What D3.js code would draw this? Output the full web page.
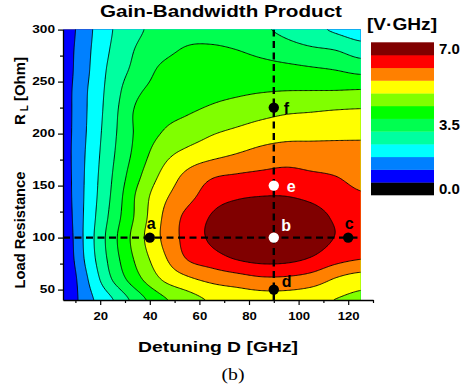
<!DOCTYPE html>
<html><head><meta charset="utf-8">
<script src="https://cdn.jsdelivr.net/npm/d3@7"></script>
<style>
body{margin:0;background:#fff}
svg text{font-family:"Liberation Sans",Arial,sans-serif;font-weight:bold;fill:#000}
</style>
</head><body>
<svg id="chart" width="463" height="391"></svg>
<script>
// ---------- data ----------
const detuning = [5, 15, 25, 35, 45, 55, 65, 75, 85, 95, 105, 115, 125];          // GHz (columns)
const loadRes  = [300, 280, 260, 240, 220, 200, 180, 160, 140, 120, 100, 80, 60, 40]; // Ohm (rows)
const gbp = [ // V·GHz
  [0.82, 1.60, 2.33, 2.82, 3.12, 3.30, 3.30, 3.18, 3.00, 2.78, 2.50, 2.25, 2.04],
  [0.88, 1.65, 2.42, 2.98, 3.33, 3.56, 3.59, 3.51, 3.35, 3.18, 3.03, 2.92, 2.65],
  [0.90, 1.69, 2.54, 3.12, 3.62, 3.79, 3.85, 3.82, 3.76, 3.70, 3.62, 3.53, 3.38],
  [0.93, 1.76, 2.63, 3.41, 3.73, 3.85, 3.95, 4.01, 4.07, 4.11, 4.12, 4.13, 4.17],
  [0.93, 1.78, 2.71, 3.62, 3.91, 4.05, 4.21, 4.36, 4.51, 4.63, 4.68, 4.74, 4.77],
  [0.93, 1.81, 2.77, 3.62, 4.11, 4.37, 4.63, 4.81, 4.98, 5.07, 5.10, 5.13, 5.16],
  [0.93, 1.86, 2.84, 3.72, 4.45, 4.84, 5.08, 5.27, 5.44, 5.54, 5.51, 5.48, 5.41],
  [0.90, 1.90, 2.93, 3.94, 4.78, 5.37, 5.75, 5.87, 5.95, 6.01, 5.91, 5.82, 5.65],
  [0.88, 1.93, 3.02, 4.19, 5.08, 5.62, 6.13, 6.33, 6.41, 6.41, 6.28, 6.07, 5.89],
  [0.82, 1.97, 3.13, 4.24, 5.26, 5.98, 6.46, 6.77, 6.90, 6.87, 6.67, 6.33, 6.10],
  [0.74, 2.01, 3.28, 4.39, 5.31, 6.03, 6.52, 6.83, 6.97, 6.93, 6.73, 6.39, 6.10],
  [0.70, 1.95, 3.19, 4.24, 5.10, 5.86, 6.17, 6.46, 6.61, 6.58, 6.38, 6.04, 5.86],
  [0.61, 1.74, 2.95, 3.91, 4.70, 5.13, 5.40, 5.57, 5.73, 5.72, 5.57, 5.20, 4.96],
  [0.64, 1.56, 2.31, 3.21, 3.96, 4.39, 4.74, 4.87, 4.96, 4.96, 4.84, 4.65, 4.52]
];
const levels = [0, 0.5833, 1.1667, 1.75, 2.3333, 2.9167, 3.5, 4.0833, 4.6667, 5.25, 5.8333, 6.4167];
const levelTop = 7.0;
const bandColors = ["#000000","#0000ff","#0080ff","#00ffff","#00ffa0","#00ff50",
                    "#00ff00","#80ff00","#ffff00","#ff8000","#ff0000","#800000"];
const cbTicks = [0.0, 3.5, 7.0];
const xMajor = [20, 40, 60, 80, 100, 120];
const xMinor = [10, 30, 50, 70, 90, 110, 130];
const yMajor = [50, 100, 150, 200, 250, 300];
const yMinor = [75, 125, 175, 225, 275];
const ptLabel = ["a", "b", "c", "d", "e", "f"];
const ptX = [40, 90, 120, 90, 90, 90];
const ptY = [100, 100, 100, 50, 150, 225];
const ptWhite = [false, true, false, false, true, false];
const hLineY = 100, vLineX = 90;

// ---------- layout ----------
const svg = d3.select("#chart");
const x = d3.scaleLinear().domain([5, 130]).range([63, 373]);
const y = d3.scaleLinear().domain([40, 300]).range([300, 29.6]);
const dataX = [detuning[0], detuning[detuning.length-1]];
const dataY = [loadRes[loadRes.length-1], loadRes[0]];

// ---------- smooth resampling of the grid for contouring ----------
function cr(p0,p1,p2,p3,t){return 0.5*((2*p1)+(-p0+p2)*t+(2*p0-5*p1+4*p2-p3)*t*t+(-p0+3*p1-3*p2+p3)*t*t*t);}
function sample(xv, yv){
  xv = Math.max(dataX[0], Math.min(dataX[1], xv));
  yv = Math.max(dataY[0], Math.min(dataY[1], yv));
  const nc = detuning.length, nr = loadRes.length;
  const u = (xv - detuning[0])/(detuning[1]-detuning[0]);
  const v = (loadRes[0] - yv)/(loadRes[0]-loadRes[1]);
  const i = Math.min(Math.floor(u), nc-2), j = Math.min(Math.floor(v), nr-2);
  const tu = u - i, tv = v - j;
  const ci = k => Math.max(0, Math.min(nc-1, k)), rj = k => Math.max(0, Math.min(nr-1, k));
  const rv = [];
  for (let m=-1; m<=2; m++){ const row = gbp[rj(j+m)];
    rv.push(cr(row[ci(i-1)], row[ci(i)], row[ci(i+1)], row[ci(i+2)], tu)); }
  return cr(rv[0], rv[1], rv[2], rv[3], tv);
}
const sx = 0.5, sy = 1, gx0 = dataX[0]-1.5, gy0 = dataY[1]+1.5;
const nx = Math.round((dataX[1]-dataX[0]+3)/sx)+1;
const ny = Math.round((dataY[1]-dataY[0]+3)/sy)+1;
const values = new Array(nx*ny);
for (let j=0;j<ny;j++) for (let i=0;i<nx;i++) values[j*nx+i] = sample(gx0+i*sx, gy0-j*sy);

const contours = d3.contours().size([nx, ny]).thresholds(levels)(values);
const path = d3.geoPath(d3.geoTransform({point(px, py){
  this.stream.point(x(gx0+(px-0.5)*sx), y(gy0-(py-0.5)*sy));
}}));

svg.append("clipPath").attr("id","clip").append("rect")
  .attr("x", x(dataX[0])).attr("y", y(dataY[1]))
  .attr("width", x(dataX[1])-x(dataX[0])).attr("height", y(dataY[0])-y(dataY[1]));

const plot = svg.append("g").attr("clip-path","url(#clip)");
plot.selectAll("path.fill").data(contours).join("path").attr("class","fill")
  .attr("d", path).attr("fill", (d,i)=>bandColors[i]).attr("stroke","none");
plot.selectAll("path.line").data(contours.slice(1)).join("path").attr("class","line")
  .attr("d", path).attr("fill","none").attr("stroke","#000").attr("stroke-width",0.9);

// dashed guide lines
plot.append("line").attr("x1",x(dataX[0])).attr("x2",x(dataX[1])).attr("y1",y(hLineY)).attr("y2",y(hLineY))
  .attr("stroke","#000").attr("stroke-width",2.4).attr("stroke-dasharray","7,4.5");
plot.append("line").attr("x1",x(vLineX)).attr("x2",x(vLineX)).attr("y1",y(dataY[1])).attr("y2",y(dataY[0]))
  .attr("stroke","#000").attr("stroke-width",2.4).attr("stroke-dasharray","7,4.5");

// points
const labelOff = {a:[1.5,-8.5,"middle"], b:[7.5,-7,"start"], c:[1,-8.5,"middle"], d:[8,-3,"start"], e:[13,6,"start"], f:[10,6.5,"start"]};
const pts = svg.append("g");
ptLabel.forEach((lab,k)=>{
  const cx = x(ptX[k]), cy = y(ptY[k]);
  const col = ptWhite[k] ? "#fff" : "#000";
  pts.append("circle").attr("cx",cx).attr("cy",cy).attr("r",5.2).attr("fill",col);
  const o = labelOff[lab];
  pts.append("text").attr("x",cx+o[0]).attr("y",cy+o[1]).attr("text-anchor",o[2])
    .style("font-size","16px").style("fill",col).text(lab);
});

// axes
function styleAxis(g){ g.select(".domain").attr("stroke","#000").attr("stroke-width",1.3);
  g.selectAll(".tick line").attr("stroke","#000").attr("stroke-width",1.2); }
const gx = svg.append("g").attr("transform",`translate(0,${y(40)})`)
  .call(d3.axisBottom(x).tickValues(xMajor).tickSize(5).tickSizeOuter(0).tickFormat(d3.format("d")));
styleAxis(gx);
gx.selectAll(".tick text").attr("y",13).style("font-size","10.5px").style("font-family","Liberation Sans")
  .attr("textLength", d=>String(d).length*7.3).attr("lengthAdjust","spacingAndGlyphs");
const gxm = svg.append("g").attr("transform",`translate(0,${y(40)})`)
  .call(d3.axisBottom(x).tickValues(xMinor).tickSize(3).tickFormat(""));
gxm.select(".domain").remove(); gxm.selectAll(".tick line").attr("stroke","#000").attr("stroke-width",1.2);

const gy = svg.append("g").attr("transform",`translate(${x(5)},0)`)
  .call(d3.axisLeft(y).tickValues(yMajor).tickSize(5).tickSizeOuter(0).tickFormat(d3.format("d")));
styleAxis(gy);
gy.selectAll(".tick text").style("font-size","10.5px").style("font-family","Liberation Sans")
  .attr("textLength", d=>String(d).length*7.6).attr("lengthAdjust","spacingAndGlyphs");
const gym = svg.append("g").attr("transform",`translate(${x(5)},0)`)
  .call(d3.axisLeft(y).tickValues(yMinor).tickSize(3).tickFormat(""));
gym.select(".domain").remove(); gym.selectAll(".tick line").attr("stroke","#000").attr("stroke-width",1.2);

// titles
svg.append("text").attr("x",221).attr("y",17).attr("text-anchor","middle").style("font-size","17px")
  .attr("textLength",242).attr("lengthAdjust","spacingAndGlyphs").text("Gain-Bandwidth Product");
svg.append("text").attr("x",218).attr("y",352).attr("text-anchor","middle").style("font-size","15px")
  .attr("textLength",160).attr("lengthAdjust","spacingAndGlyphs").text("Detuning D [GHz]");
svg.append("text").attr("transform","translate(25,230) rotate(-90)").attr("text-anchor","middle")
  .style("font-size","15px").attr("textLength",117).attr("lengthAdjust","spacingAndGlyphs").text("Load Resistance");
const rl = svg.append("text").attr("transform","translate(25,125) rotate(-90)").attr("text-anchor","start")
  .style("font-size","15px").attr("textLength",68).attr("lengthAdjust","spacingAndGlyphs");
rl.append("tspan").text("R");
rl.append("tspan").attr("dx",3).attr("dy",3).style("font-size","10px").text("L");
rl.append("tspan").attr("dy",-3).text(" [Ohm]");
svg.append("text").attr("x",233).attr("y",380).attr("text-anchor","middle")
  .style("font-family","'Liberation Serif','Times New Roman',serif").style("font-weight","normal")
  .style("font-size","16px").attr("textLength",23).attr("lengthAdjust","spacingAndGlyphs").text("(b)");

// colour bar
const cb = d3.scaleBand().domain(d3.range(bandColors.length).reverse()).range([42.3, 195]).paddingInner(0);
svg.append("g").selectAll("rect").data(bandColors).join("rect")
  .attr("x",371).attr("width",63).attr("y",(d,i)=>cb(i)).attr("height",cb.bandwidth()+0.3).attr("fill",d=>d);
const uppers = levels.slice(1).concat([levelTop]);
svg.append("g").selectAll("text").data(cbTicks).join("text")
  .attr("x",439).attr("y",d=>cb(d3.bisectLeft(uppers, d-1e-9))+cb.bandwidth()/2).attr("dy","0.36em")
  .style("font-size","15px").text(d=>d.toFixed(1));
svg.append("text").attr("x",402).attr("y",30).attr("text-anchor","middle").style("font-size","16px")
  .attr("textLength",70).attr("lengthAdjust","spacingAndGlyphs").text("[V·GHz]");
</script>
</body></html>
